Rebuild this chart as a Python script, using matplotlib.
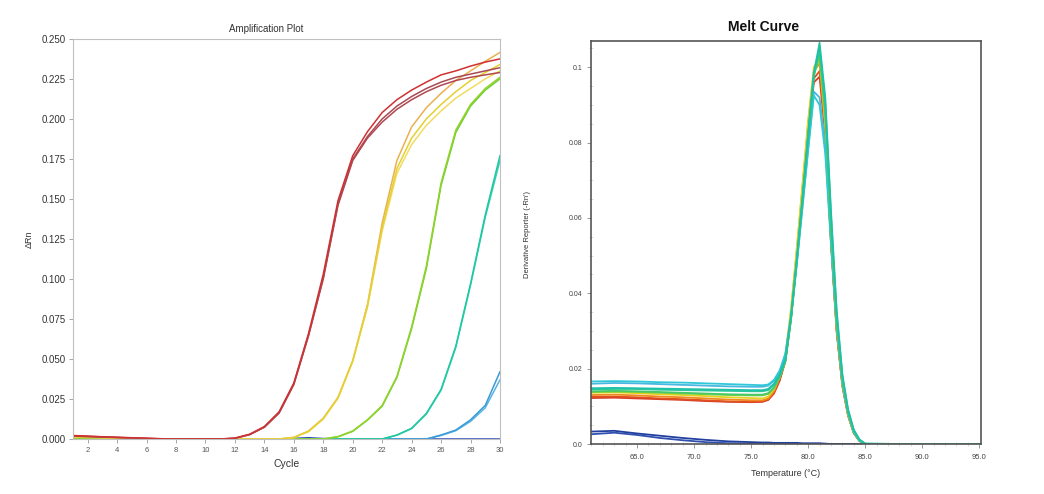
import matplotlib

matplotlib.use("Agg")

import matplotlib.pyplot as plt
from matplotlib.ticker import FixedLocator, MultipleLocator

plt.rcParams["font.family"] = ["Liberation Sans", "DejaVu Sans"]

# amplification plot: delta Rn per cycle
CYCLES = list(range(1, 31))

amp_red_1 = [0.0022, 0.0018, 0.0014, 0.0011, 0.0008, 0.0005, 0.0002, 0.0, 0.0, 0.0,
             0.0, 0.0006, 0.0030, 0.0078, 0.0170, 0.0350, 0.0660, 0.1030, 0.1490, 0.1770,
             0.1920, 0.2040, 0.2120, 0.2180, 0.2230, 0.2275, 0.2300, 0.2330, 0.2355, 0.2375]
amp_red_2 = [0.0020, 0.0017, 0.0013, 0.0010, 0.0007, 0.0004, 0.0001, 0.0, 0.0, 0.0,
             0.0, 0.0005, 0.0028, 0.0075, 0.0165, 0.0345, 0.0650, 0.1010, 0.1470, 0.1750,
             0.1890, 0.2000, 0.2080, 0.2140, 0.2190, 0.2230, 0.2260, 0.2280, 0.2300, 0.2320]
amp_red_3 = [0.0018, 0.0015, 0.0012, 0.0009, 0.0006, 0.0003, 0.0001, 0.0, 0.0, 0.0,
             0.0, 0.0004, 0.0027, 0.0073, 0.0162, 0.0340, 0.0645, 0.1000, 0.1460, 0.1740,
             0.1880, 0.1980, 0.2060, 0.2120, 0.2170, 0.2210, 0.2240, 0.2260, 0.2275, 0.2290]
amp_yellow_1 = [0.0016, 0.0013, 0.0010, 0.0007, 0.0004, 0.0002, 0.0, 0.0, 0.0, 0.0,
                0.0, 0.0, 0.0, 0.0, 0.0, 0.0010, 0.0050, 0.0130, 0.0260, 0.0490,
                0.0840, 0.1350, 0.1740, 0.1950, 0.2070, 0.2160, 0.2240, 0.2300, 0.2360, 0.2415]
amp_yellow_2 = [0.0014, 0.0011, 0.0009, 0.0006, 0.0004, 0.0002, 0.0, 0.0, 0.0, 0.0,
                0.0, 0.0, 0.0, 0.0, 0.0, 0.0010, 0.0048, 0.0128, 0.0258, 0.0488,
                0.0830, 0.1320, 0.1690, 0.1880, 0.2000, 0.2090, 0.2170, 0.2240, 0.2290, 0.2340]
amp_yellow_3 = [0.0012, 0.0010, 0.0008, 0.0005, 0.0003, 0.0001, 0.0, 0.0, 0.0, 0.0,
                0.0, 0.0, 0.0, 0.0, 0.0, 0.0009, 0.0046, 0.0125, 0.0255, 0.0485,
                0.0825, 0.1300, 0.1660, 0.1840, 0.1960, 0.2050, 0.2130, 0.2190, 0.2250, 0.2300]
amp_green_1 = [0.0006, 0.0005, 0.0004, 0.0003, 0.0002, 0.0001, 0.0, 0.0, 0.0, 0.0,
               0.0, 0.0, 0.0, 0.0, 0.0, 0.0, 0.0, 0.0, 0.0015, 0.0050,
               0.0120, 0.0210, 0.0390, 0.0700, 0.1080, 0.1600, 0.1930, 0.2090, 0.2190, 0.2260]
amp_green_2 = [0.0005, 0.0004, 0.0003, 0.0002, 0.0001, 0.0, 0.0, 0.0, 0.0, 0.0,
               0.0, 0.0, 0.0, 0.0, 0.0, 0.0, 0.0, 0.0, 0.0014, 0.0048,
               0.0118, 0.0205, 0.0385, 0.0690, 0.1065, 0.1585, 0.1915, 0.2080, 0.2180, 0.2250]
amp_teal_1 = [0.0003, 0.0002, 0.0002, 0.0001, 0.0, 0.0, 0.0, 0.0, 0.0, 0.0,
              0.0, 0.0, 0.0, 0.0, 0.0, 0.0, 0.0, 0.0, 0.0, 0.0,
              0.0, 0.0, 0.0025, 0.0067, 0.0160, 0.0310, 0.0580, 0.0970, 0.1400, 0.1770]
amp_teal_2 = [0.0002, 0.0002, 0.0001, 0.0001, 0.0, 0.0, 0.0, 0.0, 0.0, 0.0,
              0.0, 0.0, 0.0, 0.0, 0.0, 0.0, 0.0, 0.0, 0.0, 0.0,
              0.0, 0.0, 0.0024, 0.0065, 0.0156, 0.0305, 0.0572, 0.0960, 0.1385, 0.1740]
amp_blue_1 = [0.0, 0.0, 0.0, 0.0, 0.0, 0.0, 0.0, 0.0, 0.0, 0.0,
              0.0, 0.0, 0.0, 0.0, 0.0, 0.0, 0.0, 0.0, 0.0, 0.0,
              0.0, 0.0, 0.0, 0.0, 0.0, 0.0025, 0.0056, 0.0120, 0.0210, 0.0420]
amp_blue_2 = [0.0, 0.0, 0.0, 0.0, 0.0, 0.0, 0.0, 0.0, 0.0, 0.0,
              0.0, 0.0, 0.0, 0.0, 0.0, 0.0, 0.0, 0.0, 0.0, 0.0,
              0.0, 0.0, 0.0, 0.0, 0.0, 0.0022, 0.0052, 0.0110, 0.0195, 0.0370]
amp_ntc = [0.0, 0.0, 0.0, 0.0, 0.0, 0.0, 0.0, 0.0, 0.0, 0.0,
           0.0, 0.0, 0.0, 0.0, 0.0, 0.0004, 0.0008, 0.0003, 0.0, 0.0,
           0.0, 0.0, 0.0, 0.0, 0.0, 0.0, 0.0, 0.0, 0.0, 0.0]

# melt curve: derivative reporter per temperature
MELT_T = [61.0, 63.0, 65.0, 67.0, 69.0, 71.0, 73.0, 75.0, 76.0, 76.5,
          77.0, 77.5, 78.0, 78.5, 79.0, 79.5, 80.0, 80.5, 81.0, 81.5,
          82.0, 82.5, 83.0, 83.5, 84.0, 84.5, 85.0, 88.0, 91.0, 95.0]

melt_ntc_1 = [0.0033, 0.0035, 0.0028, 0.0022, 0.0016, 0.0011, 0.0007, 0.0005, 0.0004, 0.0004,
              0.0003, 0.0003, 0.0003, 0.0003, 0.0003, 0.0002, 0.0002, 0.0002, 0.0002, 0.0001,
              0.0, 0.0, 0.0, 0.0, 0.0, 0.0, 0.0, 0.0, 0.0, 0.0]
melt_ntc_2 = [0.0026, 0.0030, 0.0024, 0.0016, 0.0010, 0.0005, 0.0002, 0.0001, 0.0, 0.0,
              0.0, 0.0, 0.0, 0.0, 0.0, 0.0, 0.0, 0.0, 0.0, 0.0,
              0.0, 0.0, 0.0, 0.0, 0.0, 0.0, 0.0, 0.0, 0.0, 0.0]
melt_red_1 = [0.0125, 0.0126, 0.0124, 0.0121, 0.0119, 0.0116, 0.0113, 0.0112, 0.0113, 0.0118,
              0.0136, 0.0170, 0.0222, 0.0340, 0.0495, 0.0660, 0.0830, 0.0970, 0.0990, 0.0830,
              0.0540, 0.0300, 0.0155, 0.0076, 0.0029, 0.0008, 0.0, 0.0, 0.0, 0.0]
melt_red_2 = [0.0122, 0.0123, 0.0121, 0.0119, 0.0117, 0.0114, 0.0112, 0.0111, 0.0112, 0.0117,
              0.0134, 0.0168, 0.0220, 0.0335, 0.0490, 0.0655, 0.0825, 0.0960, 0.0975, 0.0820,
              0.0535, 0.0298, 0.0154, 0.0075, 0.0029, 0.0008, 0.0, 0.0, 0.0, 0.0]
melt_orange = [0.0130, 0.0131, 0.0129, 0.0126, 0.0124, 0.0121, 0.0118, 0.0116, 0.0116, 0.0121,
               0.0140, 0.0176, 0.0230, 0.0352, 0.0510, 0.0680, 0.0850, 0.0990, 0.1010, 0.0840,
               0.0545, 0.0305, 0.0158, 0.0077, 0.0030, 0.0008, 0.0, 0.0, 0.0, 0.0]
melt_yellow = [0.0136, 0.0137, 0.0135, 0.0132, 0.0130, 0.0127, 0.0124, 0.0122, 0.0121, 0.0126,
               0.0145, 0.0180, 0.0235, 0.0360, 0.0520, 0.0690, 0.0860, 0.1000, 0.1030, 0.0850,
               0.0550, 0.0310, 0.0160, 0.0078, 0.0030, 0.0008, 0.0, 0.0, 0.0, 0.0]
melt_cyan_1 = [0.0166, 0.0167, 0.0166, 0.0164, 0.0163, 0.0161, 0.0159, 0.0157, 0.0156, 0.0158,
               0.0170, 0.0195, 0.0240, 0.0340, 0.0480, 0.0630, 0.0780, 0.0925, 0.0900, 0.0770,
               0.0530, 0.0310, 0.0160, 0.0080, 0.0030, 0.0008, 0.0, 0.0, 0.0, 0.0]
melt_cyan_2 = [0.0160, 0.0162, 0.0161, 0.0159, 0.0157, 0.0155, 0.0153, 0.0152, 0.0152, 0.0155,
               0.0168, 0.0192, 0.0236, 0.0335, 0.0475, 0.0628, 0.0785, 0.0935, 0.0920, 0.0790,
               0.0545, 0.0320, 0.0165, 0.0082, 0.0031, 0.0009, 0.0, 0.0, 0.0, 0.0]
melt_green_1 = [0.0140, 0.0141, 0.0140, 0.0138, 0.0136, 0.0134, 0.0132, 0.0131, 0.0131, 0.0135,
                0.0150, 0.0178, 0.0220, 0.0335, 0.0490, 0.0655, 0.0825, 0.0985, 0.1040, 0.0880,
                0.0580, 0.0330, 0.0172, 0.0085, 0.0034, 0.0010, 0.0, 0.0, 0.0, 0.0]
melt_green_2 = [0.0138, 0.0139, 0.0138, 0.0136, 0.0134, 0.0132, 0.0130, 0.0129, 0.0129, 0.0133,
                0.0148, 0.0176, 0.0218, 0.0330, 0.0485, 0.0650, 0.0820, 0.0980, 0.1025, 0.0870,
                0.0575, 0.0325, 0.0170, 0.0084, 0.0033, 0.0010, 0.0, 0.0, 0.0, 0.0]
melt_teal_1 = [0.0148, 0.0149, 0.0148, 0.0147, 0.0146, 0.0145, 0.0144, 0.0143, 0.0143, 0.0146,
               0.0160, 0.0185, 0.0225, 0.0340, 0.0490, 0.0650, 0.0820, 0.0985, 0.1065, 0.0920,
               0.0620, 0.0355, 0.0185, 0.0092, 0.0038, 0.0012, 0.0001, 0.0, 0.0, 0.0]
melt_teal_2 = [0.0145, 0.0146, 0.0146, 0.0144, 0.0143, 0.0142, 0.0141, 0.0140, 0.0140, 0.0143,
               0.0157, 0.0182, 0.0222, 0.0335, 0.0485, 0.0645, 0.0815, 0.0975, 0.1050, 0.0905,
               0.0605, 0.0345, 0.0180, 0.0089, 0.0036, 0.0011, 0.0001, 0.0, 0.0, 0.0]

fig = plt.figure(figsize=(10.44, 4.94), dpi=100)

# ---- left: amplification plot ----
ax1 = fig.add_axes([0.0699, 0.1113, 0.409, 0.810])

amp_lines = [
    (amp_ntc, "#2a44c0"),
    (amp_blue_2, "#58b4e0"),
    (amp_blue_1, "#3a9ad8"),
    (amp_teal_2, "#38d0b8"),
    (amp_teal_1, "#20c8a0"),
    (amp_green_2, "#70cc38"),
    (amp_green_1, "#90d428"),
    (amp_yellow_1, "#eab050"),
    (amp_yellow_3, "#f0dc60"),
    (amp_yellow_2, "#e4d030"),
    (amp_red_3, "#b04850"),
    (amp_red_2, "#a84a55"),
    (amp_red_1, "#d03030"),
]
for vals, col in amp_lines:
    ax1.plot(CYCLES, vals, color=col, lw=1.1)

ax1.set_xlim(1, 30)
ax1.set_ylim(0, 0.25)
ax1.set_xticks(range(2, 31, 2))
ax1.set_yticks([i * 0.025 for i in range(11)])
ax1.set_yticklabels([f"{i * 0.025:.3f}" for i in range(11)])
ax1.tick_params(axis="y", labelsize=7, length=3, width=0.6, color="#999999",
                labelcolor="#333333", pad=2)
ax1.tick_params(axis="x", labelsize=5.5, length=3, width=0.6, color="#999999",
                labelcolor="#555555", pad=3)
for sp in ax1.spines.values():
    sp.set_color("#c0c0c0")
    sp.set_linewidth(0.8)
ax1.set_xlabel("Cycle", fontsize=7.5, color="#333333", labelpad=3)
ax1.set_ylabel("ΔRn", fontsize=6.5, color="#333333", labelpad=6)
fig.text(266 / 1044, 1 - 29 / 494, "Amplification Plot", ha="center", va="center",
         fontsize=7, color="#333333")

# ---- right: melt curve ----
ax2 = fig.add_axes([0.566, 0.1012, 0.3736, 0.816])

melt_lines = [
    (melt_ntc_2, "#3050b0"),
    (melt_ntc_1, "#2040a0"),
    (melt_red_2, "#d83a28"),
    (melt_red_1, "#e05020"),
    (melt_orange, "#f08a20"),
    (melt_yellow, "#e8d020"),
    (melt_cyan_2, "#48b8e0"),
    (melt_cyan_1, "#30c8d8"),
    (melt_green_2, "#78d040"),
    (melt_green_1, "#48c868"),
    (melt_teal_2, "#28c898"),
    (melt_teal_1, "#20c0a8"),
]
for vals, col in melt_lines:
    ax2.plot(MELT_T, vals, color=col, lw=1.3)

ax2.set_xlim(60.95, 95.15)
ax2.set_ylim(0, 0.107)
ax2.xaxis.set_major_locator(FixedLocator([65, 70, 75, 80, 85, 90, 95]))
ax2.set_xticklabels(["65.0", "70.0", "75.0", "80.0", "85.0", "90.0", "95.0"])
ax2.xaxis.set_minor_locator(MultipleLocator(1))
ax2.yaxis.set_major_locator(FixedLocator([0, 0.02, 0.04, 0.06, 0.08, 0.1]))
ax2.set_yticklabels(["0.0", "0.02", "0.04", "0.06", "0.08", "0.1"])
ax2.yaxis.set_minor_locator(MultipleLocator(0.005))
ax2.tick_params(axis="both", which="major", length=3, width=0.6, color="#888888",
                labelcolor="#444444")
ax2.tick_params(axis="x", which="major", labelsize=5.5, pad=4)
ax2.tick_params(axis="y", which="major", labelsize=5, pad=3)
ax2.tick_params(axis="both", which="minor", direction="inout", length=3, width=0.5,
                color="#cccccc")
for sp in ax2.spines.values():
    sp.set_color("#555555")
    sp.set_linewidth(1.2)
ax2.set_xlabel("Temperature (°C)", fontsize=6.5, color="#333333", labelpad=6)
ax2.set_ylabel("Derivative Reporter (-Rn')", fontsize=5.5, color="#333333")
ax2.yaxis.set_label_coords(-(591 - 531) / 390, 0.52)
fig.text(764 / 1044, 1 - 27 / 494, "Melt Curve", ha="center", va="center",
         fontsize=10, fontweight="bold", color="#111111")

fig.savefig("out.png", dpi=100)
plt.close(fig)
